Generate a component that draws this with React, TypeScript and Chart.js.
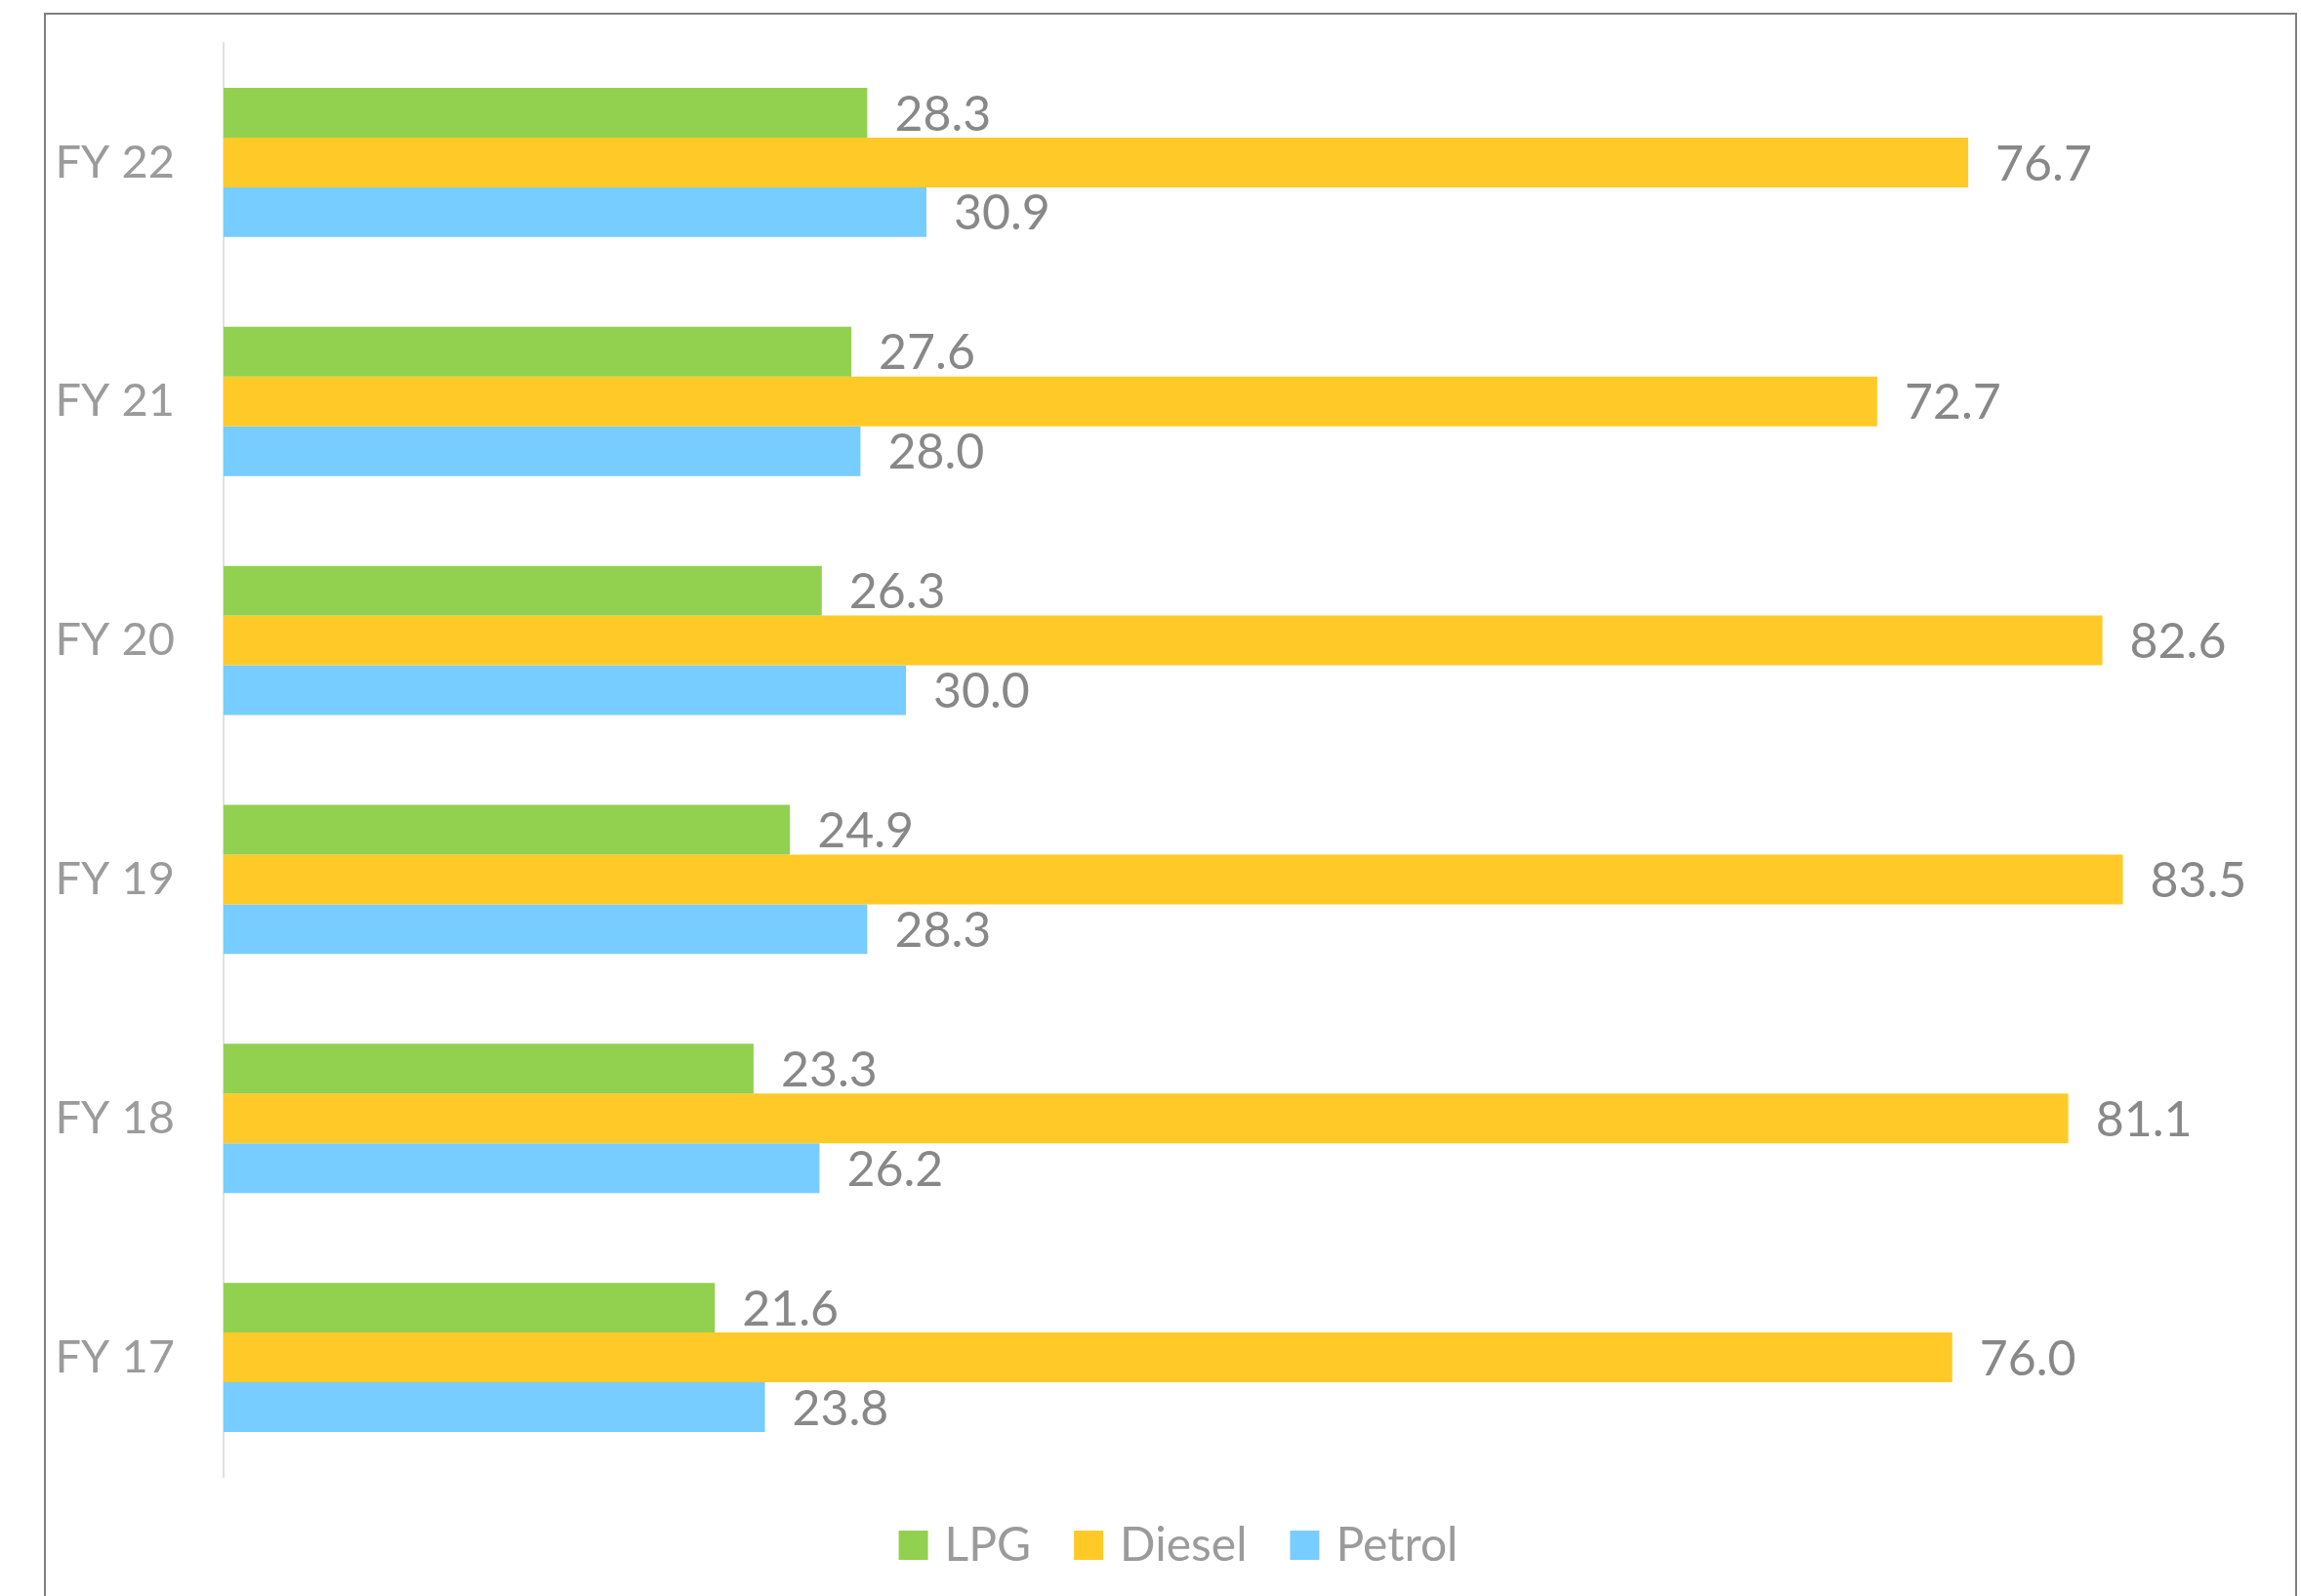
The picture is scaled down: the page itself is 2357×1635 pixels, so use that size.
import React, { useEffect, useRef } from "react";
import { Chart, registerables } from "chart.js";

Chart.register(...registerables);

const categories = ["FY 22", "FY 21", "FY 20", "FY 19", "FY 18", "FY 17"];
const seriesNames = ["LPG", "Diesel", "Petrol"];
const lpgValues = [28.3, 27.6, 26.3, 24.9, 23.3, 21.6];
const dieselValues = [76.7, 72.7, 82.6, 83.5, 81.1, 76.0];
const petrolValues = [30.9, 28.0, 30.0, 28.3, 26.2, 23.8];
const seriesColors = ["#92D050", "#FFCA28", "#77CDFF"];
const axisMin = 0;
const axisMax = 90;

const FONT = "Lato, 'Open Sans', sans-serif";

const dataLabelPlugin = {
  id: "dataLabels",
  afterDatasetsDraw(chart: any) {
    const ctx = chart.ctx;
    ctx.save();
    ctx.font = `50px ${FONT}`;
    ctx.fillStyle = "#888888";
    ctx.textAlign = "left";
    ctx.textBaseline = "middle";
    chart.data.datasets.forEach((ds: any, di: number) => {
      const meta = chart.getDatasetMeta(di);
      meta.data.forEach((el: any, i: number) => {
        const v = ds.data[i] as number;
        ctx.fillText(v.toFixed(1), el.x + 28, el.y + 2);
      });
    });
    ctx.restore();
  },
};

const frameAndLegendPlugin = {
  id: "frameLegend",
  afterDraw(chart: any) {
    const ctx = chart.ctx;
    // outer frame
    ctx.save();
    ctx.strokeStyle = "#7f7f7f";
    ctx.lineWidth = 2;
    ctx.beginPath();
    ctx.moveTo(46, 1700);
    ctx.lineTo(46, 14);
    ctx.lineTo(2352, 14);
    ctx.lineTo(2352, 1700);
    ctx.stroke();
    ctx.restore();

    // legend
    const box = 30;
    const gapText = 17;
    const gapItem = 44;
    const centerX = 1207;
    const centerY = 1583;
    ctx.save();
    ctx.font = `48px ${FONT}`;
    const items = chart.data.datasets.map((ds: any) => ({
      label: ds.label,
      color: ds.backgroundColor,
      w: ctx.measureText(ds.label).width,
    }));
    let total = 0;
    items.forEach((it: any, i: number) => {
      total += box + gapText + it.w + (i < items.length - 1 ? gapItem : 0);
    });
    let x = centerX - total / 2;
    ctx.textBaseline = "middle";
    ctx.textAlign = "left";
    items.forEach((it: any) => {
      ctx.fillStyle = it.color;
      ctx.fillRect(x, centerY - box / 2, box, box);
      ctx.fillStyle = "#9b9b9b";
      ctx.fillText(it.label, x + box + gapText, centerY + 1);
      x += box + gapText + it.w + gapItem;
    });
    ctx.restore();
  },
};

export default function App() {
  const canvasRef = useRef<HTMLCanvasElement | null>(null);

  useEffect(() => {
    if (!canvasRef.current) return;
    const valueSets = [lpgValues, dieselValues, petrolValues];
    const chart = new Chart(canvasRef.current, {
      type: "bar",
      data: {
        labels: categories,
        datasets: seriesNames.map((name, i) => ({
          label: name,
          data: valueSets[i],
          backgroundColor: seriesColors[i],
          borderWidth: 0,
          categoryPercentage: 0.624,
          barPercentage: 1.0,
        })),
      },
      options: {
        indexAxis: "y",
        animation: false,
        responsive: false,
        maintainAspectRatio: false,
        layout: { padding: { top: 44, right: 31, bottom: 122, left: 0 } },
        plugins: {
          legend: { display: false },
          tooltip: { enabled: false },
          title: { display: false },
        },
        scales: {
          x: {
            display: false,
            min: axisMin,
            max: axisMax,
          },
          y: {
            grid: { display: false, drawTicks: false },
            border: { display: true, color: "#e2e2e2", width: 2 },
            ticks: {
              color: "#9b9b9b",
              font: { family: FONT, size: 47 },
              padding: 50,
            },
            afterFit(scale: any) {
              scale.width = 229;
              scale.paddingTop = 0;
              scale.paddingBottom = 0;
            },
          },
        },
      },
      plugins: [dataLabelPlugin, frameAndLegendPlugin],
    });
    return () => chart.destroy();
  }, []);

  return (
    <div style={{ position: "fixed", left: 0, top: 0, width: 2357, height: 1635, background: "#fff" }}>
      <canvas ref={canvasRef} width={2357} height={1635} style={{ display: "block" }} />
    </div>
  );
}
